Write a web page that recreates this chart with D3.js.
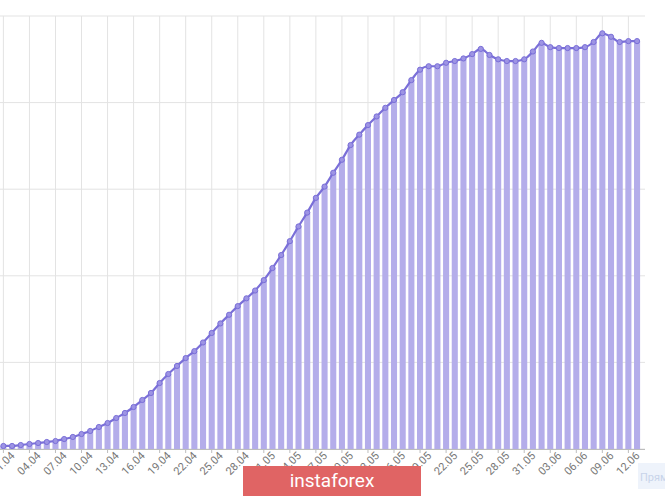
<!DOCTYPE html>
<html><head><meta charset="utf-8">
<script src="https://cdn.jsdelivr.net/npm/d3@7"></script>
<style>body{margin:0;background:#fff}svg{display:block}</style>
</head><body><svg id="c" width="665" height="496"></svg>
<script>
const dates=["01.04","02.04","03.04","04.04","05.04","06.04","07.04","08.04","09.04","10.04","11.04","12.04","13.04","14.04","15.04","16.04","17.04","18.04","19.04","20.04","21.04","22.04","23.04","24.04","25.04","26.04","27.04","28.04","29.04","30.04","01.05","02.05","03.05","04.05","05.05","06.05","07.05","08.05","09.05","10.05","11.05","12.05","13.05","14.05","15.05","16.05","17.05","18.05","19.05","20.05","21.05","22.05","23.05","24.05","25.05","26.05","27.05","28.05","29.05","30.05","31.05","01.06","02.06","03.06","04.06","05.06","06.06","07.06","08.06","09.06","10.06","11.06","12.06","13.06"];
const values=[3.5,3.5,4.6,5.8,6.9,8.1,9.2,11.5,13.9,17.3,20.8,25.4,30,35.8,41.6,48.5,56.6,64.7,76.2,86.6,95.9,105,113,123,134,145,155,165,174,183,195,209,224,240,257,273,290,303,319,334,351,363,374,384,394,403,412,426,438,442,442,446,448,451,456,462,455,450,448,448,450,459,469,464,463,463,463,464,470,480,476,470,471,471];
const yTicks=[0,100,200,300,400,500];

const svg=d3.select("#c");
const x=d3.scaleBand().domain(dates).range([-0.94,641.4]).paddingInner(0.3).paddingOuter(0.15);
const y=d3.scaleLinear().domain([0,500]).range([449,16]);
const cx=d=>x(d)+x.bandwidth()/2;

svg.append("g").selectAll("line").data(yTicks).join("line")
 .attr("x1",0).attr("x2",645).attr("y1",d=>y(d)).attr("y2",d=>y(d))
 .attr("stroke","#e3e3e3");
const tickDates=dates.filter((d,i)=>i%3===0);
svg.append("g").selectAll("line").data(tickDates).join("line")
 .attr("x1",cx).attr("x2",cx).attr("y1",16).attr("y2",449).attr("stroke","#e3e3e3");

svg.append("g").selectAll("rect").data(values).join("rect")
 .attr("x",(d,i)=>x(dates[i])).attr("width",x.bandwidth())
 .attr("y",d=>y(d)).attr("height",d=>y(0)-y(d)).attr("fill","#b4adea");

svg.append("path").datum(values)
 .attr("d",d3.line().x((d,i)=>cx(dates[i])).y(d=>y(d)).curve(d3.curveMonotoneX))
 .attr("fill","none").attr("stroke","#7a6fd8").attr("stroke-width",2.2);
svg.append("g").selectAll("circle").data(values).join("circle")
 .attr("cx",(d,i)=>cx(dates[i])).attr("cy",d=>y(d)).attr("r",2.6)
 .attr("fill","#9d94e4").attr("stroke","#7a6fd8").attr("stroke-width",1);

svg.append("line").attr("x1",0).attr("x2",645).attr("y1",449.5).attr("y2",449.5).attr("stroke","#bdbdbd");

const ax=d3.axisBottom(x).tickValues(tickDates).tickSize(4).tickSizeOuter(0);
const g=svg.append("g").attr("transform","translate(0,449)").call(ax);
g.select(".domain").remove();
g.selectAll(".tick line").attr("stroke","#bdbdbd");
g.selectAll("text").attr("font-family","Roboto, sans-serif").attr("font-size",11).attr("fill","#777")
 .attr("text-anchor","end").attr("dx","0.3em").attr("dy","0.6em").attr("transform","rotate(-45)");

svg.append("rect").attr("x",638).attr("y",463).attr("width",40).attr("height",26).attr("fill","#eef3fb");
svg.append("text").attr("x",640).attr("y",481).attr("font-family","Roboto, sans-serif").attr("font-size",11).attr("fill","#c8d4ea").text("Прям");
svg.append("rect").attr("x",243).attr("y",466).attr("width",178).attr("height",30).attr("fill","#e06464");
svg.append("text").attr("x",332).attr("y",487).attr("text-anchor","middle").attr("font-family","Roboto, sans-serif").attr("font-size",19).attr("fill","#fff").text("instaforex");
</script></body></html>
